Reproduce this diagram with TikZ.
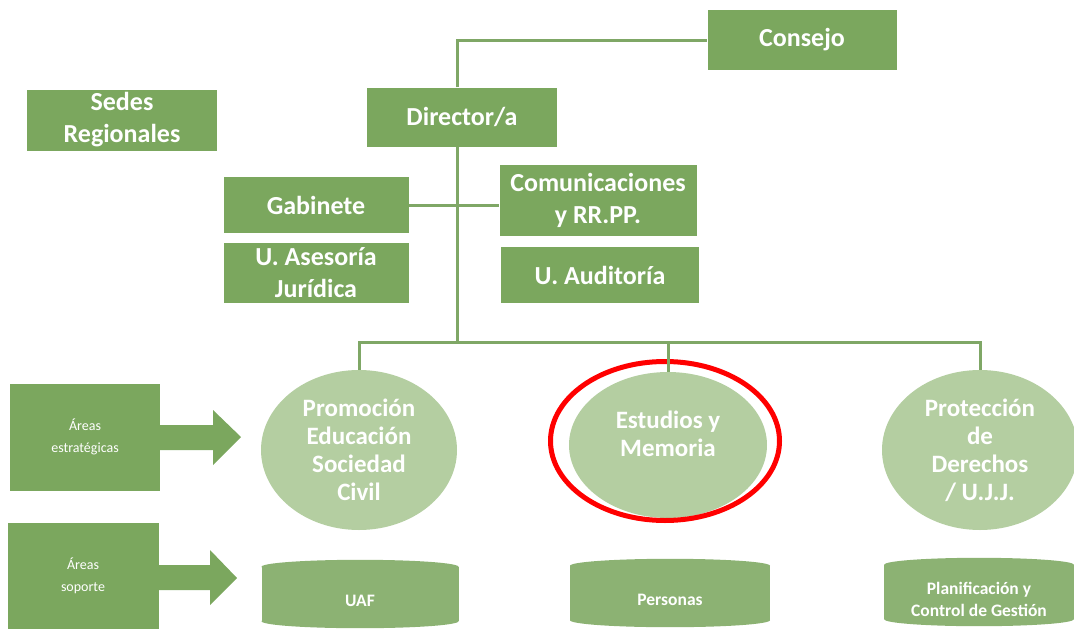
\documentclass[tikz,border=0pt]{standalone}
\usepackage{fontspec}
\setmainfont{Carlito}
\usetikzlibrary{positioning}
\usetikzlibrary{shapes.geometric}
\usetikzlibrary{backgrounds}
\definecolor{boxgreen}{HTML}{7BA75E}
\definecolor{areagreen}{HTML}{B4CEA1}
\definecolor{basegreen}{HTML}{8CB273}
\definecolor{linegreen}{HTML}{7FA766}
\tikzset{BoxStyle/.style={fill=boxgreen,text=white,font=\fontsize{26}{32}\selectfont\bfseries,align=center,inner sep=0pt},
  AreaStyle/.style={ellipse,fill=areagreen,text=white,font=\fontsize{25}{28}\selectfont\bfseries,align=center,inner sep=0pt},
  BaseStyle/.style={fill=basegreen,inner sep=0pt,minimum height=54},
  BaseText/.style={text=white,font=\fontsize{17.5}{22}\selectfont\bfseries,align=center,yshift=-7pt},
  SideStyle/.style={fill=boxgreen,text=white,font=\fontsize{14}{22}\selectfont,align=center,inner sep=0pt},
  LinkStyle/.style={draw=linegreen,line width=3pt}}

\begin{document}
\begin{tikzpicture}[x=1pt,y=-1pt]
        \useasboundingbox (0,0) rectangle (1074,629);
        \node[BoxStyle,minimum width=189,minimum height=60] (Consejo) at (802,40) {Consejo};
        \node[BoxStyle,minimum width=190,minimum height=59] (Dir) at (462,117) {Director/a};
        \node[BoxStyle,minimum width=190,minimum height=61] (Sedes) at (122,120) {Sedes\\Regionales};
        \node[BoxStyle,minimum width=185,minimum height=56] (Gab) at (316,205) {Gabinete};
        \node[BoxStyle,minimum width=185,minimum height=60] (Jur) at (316,273) {U. Asesoría\\Jurídica};
        \node[BoxStyle,minimum width=197,minimum height=71] (Com) at (598,200) {Comunicaciones\\y RR.PP.};
        \node[BoxStyle,minimum width=198,minimum height=56] (Aud) at (600,275) {U. Auditoría};
        \node[AreaStyle,minimum width=196,minimum height=160] (Prom) at (359,450) {Promoción\\Educación\\Sociedad\\Civil};
        \node[AreaStyle,minimum width=198,minimum height=146] (Est) at (668,445) {Estudios y\\Memoria\\[-6pt]};
        \node[AreaStyle,minimum width=196,minimum height=160] (Prot) at (980,450) {Protección\\de\\Derechos\\/ U.J.J.};
        \node[BaseStyle,minimum width=197,label={[BaseText]center:UAF}] (UAF) at (360,594) {};
        \node[BaseStyle,minimum width=200,label={[BaseText]center:Personas}] (Pers) at (670,593) {};
        \node[BaseStyle,minimum width=190,label={[BaseText]center:Planificación y\\Control de Gestión}] (Plan) at (979,592) {};
        \begin{pgfonlayer}{background}
          \foreach \b/\w in {UAF/98.5,Pers/100,Plan/95}
            \fill[basegreen] (\b.north) ellipse [x radius=\w pt,y radius=7pt]
                             (\b.south) ellipse [x radius=\w pt,y radius=7pt];
        \end{pgfonlayer}
        \node[SideStyle,minimum width=150,minimum height=107] (Estr) at (85,437) {Áreas\\estratégicas};
        \node[SideStyle,minimum width=151,minimum height=106] (Sop) at (83,576) {Áreas\\soporte};
        \node[ellipse,draw=red,line width=5pt,minimum width=229,minimum height=159] (Mark) at (665,441) {};
        \draw[LinkStyle] (Dir.north -| 457,0) |- (Consejo.west);
        \draw[LinkStyle] (Gab.east) -- (Com.west |- Gab.east);
        \draw[LinkStyle] (Dir.south -| 457,0) -- (457,342);
        \draw[LinkStyle] (Prom.north) |- (Prot.north |- 0,342) -- (Prot.north);
        \draw[LinkStyle] (Est.north |- 0,342) -- (Est.north);
        \fill[boxgreen] (Estr.east |- 0,425) -- (213,425) -- (213,410) -- (241,437) -- (213,465) -- (213,450) -- (Estr.east |- 0,450) -- cycle;
        \fill[boxgreen] (Sop.east |- 0,565) -- (210,565) -- (210,550) -- (237,578) -- (210,605) -- (210,590) -- (Sop.east |- 0,590) -- cycle;
    \end{tikzpicture}
\end{document}
